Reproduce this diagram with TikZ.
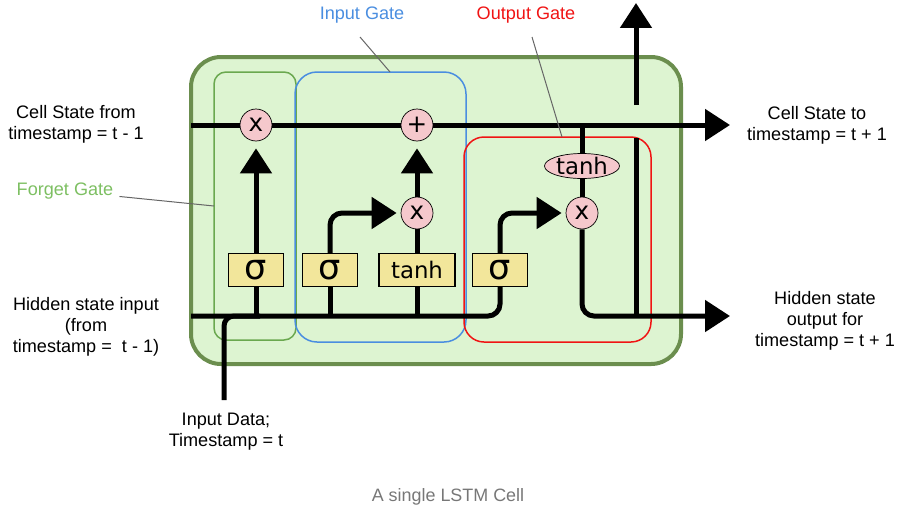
\documentclass[tikz,border=0pt]{standalone}
\usepackage{fontspec}
\setmainfont{Liberation Sans}
\newfontfamily\symfont{DejaVu Sans}
\usepackage{xcolor}
\usepackage{tikz}
\usetikzlibrary{arrows.meta,calc,positioning,shapes.geometric}

\definecolor{cellfill}{HTML}{DDF4D1}
\definecolor{cellline}{HTML}{6B8E4E}
\definecolor{forgetc}{HTML}{6AA84F}
\definecolor{forgettxt}{HTML}{7DBF62}
\definecolor{inputc}{HTML}{4A8EE0}
\definecolor{outputc}{HTML}{F01414}
\definecolor{actfill}{HTML}{F2E69B}
\definecolor{opfill}{HTML}{F5C8CC}
\definecolor{capgray}{HTML}{777777}

\begin{document}
\begin{tikzpicture}[x=0.02cm, y=-0.02cm,
        flow/.style={line width=0.1cm},
        arr/.style={flow, -{Triangle[width=0.62cm,length=0.5cm]}},
        op/.style={circle, draw, thin, fill=opfill, minimum size=0.64cm, inner sep=0pt,
                   font=\symfont\fontsize{14}{14}\selectfont},
        act/.style={rectangle, draw, semithick, fill=actfill, minimum height=0.66cm, inner sep=0pt,
                    font=\symfont\fontsize{13}{13}\selectfont},
        sig/.style={act, minimum width=1.1cm, font=\symfont\fontsize{20}{20}\selectfont},
        gatebox/.style={line width=0.03cm},
        lbl/.style={align=center, font=\fontsize{10.3}{11.8}\selectfont},
        leader/.style={draw=black!60, line width=0.02cm}]
            \path[use as bounding box] (0,0) rectangle (905,511);

            \filldraw[fill=cellfill, draw=cellline, line width=0.08cm, rounded corners=0.6cm]
                (191,57) rectangle (681,364);
            \draw[gatebox, forgetc, rounded corners=0.24cm] (214,72) rectangle (296,340);
            \draw[gatebox, inputc, rounded corners=0.44cm] (295,72) rectangle (466,342);
            \draw[gatebox, outputc, rounded corners=0.4cm] (464,137) rectangle (651,342);

            \node[op] (fx) at (256,125) {x};
            \node[op] (plus) at (417,125) {+};
            \node[op] (ix) at (417,213) {x};
            \node[op] (ox) at (582,213) {x};
            \node[ellipse, draw, thin, fill=opfill, minimum width=1.5cm, minimum height=0.5cm, inner sep=0pt,
                  font=\symfont\fontsize{13}{13}\selectfont] (otanh) at (582,166) {tanh};
            \node[sig] (fsig) at (256,270) {σ};
            \node[sig] (isig) at (330,270) {σ};
            \node[act, minimum width=1.52cm] (itanh) at (417,270) {tanh};
            \node[sig] (osig) at (500,270) {σ};

            \coordinate (cin) at (191,125);
            \coordinate (cout) at (730,125);
            \coordinate (otap) at (582,125);
            \coordinate (hin) at (191,316);
            \coordinate (hout) at (730,316);
            \coordinate (hjoin) at (260,316);
            \coordinate (xin) at (224,400);
            \coordinate (hcopytop) at (636,138);
            \coordinate (hcopy) at (636,316);
            \coordinate (hupbot) at (636,105);
            \coordinate (huptop) at (636,3);

            \draw[flow] (cin) -- (fx) -- (plus);
            \draw[arr] (plus) -- (cout);
            \draw[flow, rounded corners=0.24cm] (hin) -| (osig);
            \draw[flow, rounded corners=0.2cm] (xin) |- (hjoin);
            \draw[flow] (fsig) -- (fsig |- hin);
            \draw[flow] (isig) -- (isig |- hin);
            \draw[flow] (itanh) -- (itanh |- hin);

            \draw[arr, shorten >=0.14cm] (fsig) -- (fx);
            \draw[arr, rounded corners=0.24cm, shorten >=0.08cm] (isig) |- (ix);
            \draw[flow] (itanh) -- (ix);
            \draw[arr, shorten >=0.14cm] (ix) -- (plus);
            \draw[arr, rounded corners=0.24cm, shorten >=0.08cm] (osig) |- (ox);
            \draw[flow] (otap) -- (otanh);
            \draw[flow] (otanh) -- (ox);
            \draw[arr, rounded corners=0.24cm] (ox) |- (hout);
            \draw[flow] (hcopytop) -- (hcopy);
            \draw[arr] (hupbot) -- (huptop);

            \node[lbl] (cslbl) at (76,124) {Cell State from\\timestamp = t - 1};
            \node[lbl] (hilbl) at (86,327) {Hidden state input\\(from\\timestamp =\ \ t - 1)};
            \node[lbl] (colbl) at (817,125) {Cell State to\\timestamp = t + 1};
            \node[lbl] (holbl) at (825,321) {Hidden state\\output for\\timestamp = t + 1};
            \node[lbl] (xlbl) at (226,432) {Input Data;\\Timestamp = t};

            \node[lbl, text=inputc] (iglbl) at (362,15) {Input Gate};
            \node[lbl, text=outputc] (oglbl) at (526,15) {Output Gate};
            \node[lbl, text=forgettxt] (fglbl) at (65,191) {Forget Gate};
            \node[text=capgray, font=\fontsize{10.2}{12}\selectfont] (caption) at (448,497) {A single LSTM Cell};

            \coordinate (fgpin) at (214,206);
            \coordinate (igtail) at (360,37);
            \coordinate (igpin) at (390,72);
            \coordinate (ogtail) at (532,37);
            \coordinate (ogpin) at (562,137);
            \draw[leader] (fglbl) -- (fgpin);
            \draw[leader] (igtail) -- (igpin);
            \draw[leader] (ogtail) -- (ogpin);
        \end{tikzpicture}
\end{document}
